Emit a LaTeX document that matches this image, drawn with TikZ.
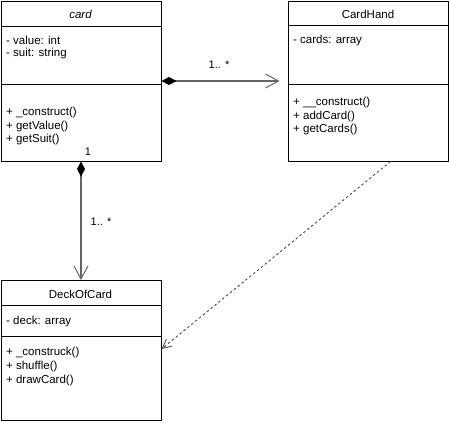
\documentclass[tikz,border=0pt]{standalone}
\usepackage{fontspec}
\setmainfont{Liberation Sans}
\usetikzlibrary{arrows.meta,calc}
\definecolor{conn}{RGB}{100,100,100}
\begin{document}
\begin{tikzpicture}[x=1pt,y=-1pt,
  box/.style={draw=black,line width=1pt,anchor=north west,inner sep=0pt,minimum width=160pt},
  sep/.style={draw=black,line width=1pt},
  txt/.style={anchor=west,inner sep=0pt,font=\fontsize{11.5}{13.5}\selectfont},
  ttl/.style={anchor=center,inner sep=0pt,font=\fontsize{11.5}{13.5}\selectfont},
  lbl/.style={anchor=center,inner sep=0pt,font=\fontsize{11}{13}\selectfont},
  comp/.style={draw=conn,line width=1.1pt,{Diamond[length=15pt,width=8pt,fill=black,color=black]}-{Straight Barb[length=13pt,width=14pt,line width=1pt]}},
  dep/.style={draw=black!70,line width=0.9pt,dash pattern=on 2.5pt off 2.5pt,-{Straight Barb[length=9pt,width=9pt,line width=0.9pt]}}]
\useasboundingbox (0,0) rectangle (449,424);
% card
\node[box,minimum height=160pt] (card) at (0.5,0.5) {};
\draw[sep] (0.5,26) -- (160.5,26);
\draw[sep] (0.5,84) -- (160.5,84);
\node[ttl,font=\fontsize{11.5}{13.5}\selectfont\itshape] (cardt) at (80.5,14) {card};
\node[txt] (ca1) at (6,40) {- value: int};
\node[txt] (ca2) at (6,53.5) {- suit: string};
\node[txt] (cm1) at (6,113) {+ \_construct()};
\node[txt] (cm2) at (6,126.5) {+ getValue()};
\node[txt] (cm3) at (6,140) {+ getSuit()};
% CardHand
\node[box,minimum height=160pt] (hand) at (288,0.5) {};
\draw[sep] (288,25.5) -- (448,25.5);
\draw[sep] (288,84) -- (448,84);
\node[ttl] (handt) at (368,14) {CardHand};
\node[txt] (ha1) at (293,41) {- cards: array};
\node[txt] (hm1) at (293,103) {+ \_\_construct()};
\node[txt] (hm2) at (293,116.5) {+ addCard()};
\node[txt] (hm3) at (293,130) {+ getCards()};
% DeckOfCard
\node[box,minimum height=140pt] (deck) at (0.5,280) {};
\draw[sep] (0.5,305) -- (160.5,305);
\draw[sep] (0.5,336) -- (160.5,336);
\node[ttl] (deckt) at (80.5,294) {DeckOfCard};
\node[txt] (da1) at (6,322) {- deck: array};
\node[txt] (dm1) at (6,353) {+ \_construck()};
\node[txt] (dm2) at (6,367) {+ shuffle()};
\node[txt] (dm3) at (6,381) {+ drawCard()};
% connectors
\draw[comp,shorten >=8.5pt] (card.east) -- (hand.west |- card.east);
\node[lbl] (l1) at (219,65) {1.. *};
\draw[comp] (card.south) -- (deck.north);
\node[lbl] (l2) at (88,152) {1};
\node[lbl] (l3) at (101,222) {1.. *};
\coordinate (ds) at ($(hand.south)+(22,0)$);
\draw[dep] (ds) -- ($(deck.east)+(0,-1.5)$);
\end{tikzpicture}
\end{document}
